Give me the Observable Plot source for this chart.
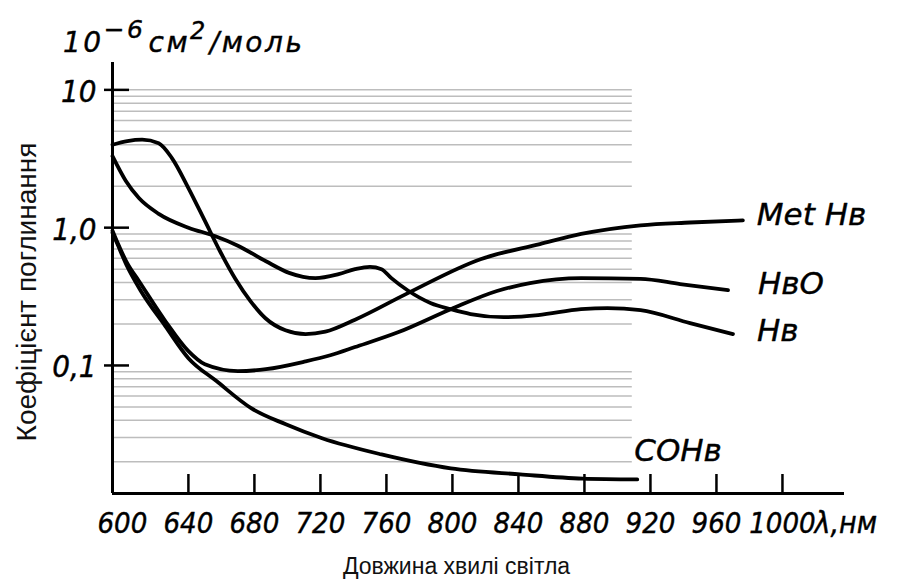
<!DOCTYPE html>
<html><head><meta charset="utf-8">
<script src="https://cdn.jsdelivr.net/npm/d3@7"></script>
<script src="https://cdn.jsdelivr.net/npm/@observablehq/plot@0.6"></script>
<style>body{margin:0;background:#fff} svg{display:block}</style>
</head><body><div id="chart"></div>
<script>
// ---- data ----
const xTicks = [600, 640, 680, 720, 760, 800, 840, 880, 920, 960, 1000];
const xTickMarks = [640, 680, 720, 760, 800, 840, 880, 920, 960, 1000];
const xUnit = "λ,нм";
const yTicks = [10, 1, 0.1];
const yTickLabels = ["10", "1,0", "0,1"];
const gridValues = [0.02,0.03,0.04,0.05,0.06,0.07,0.08,0.09,
                    0.2,0.3,0.4,0.5,0.6,0.7,0.8,0.9,
                    2,3,4,5,6,7,8,9,10];
const seriesNames = ["Met Нв", "НвО", "Нв", "СОНв"];
const metHb = [[594,4.0],[603,4.25],[612,4.35],[622,4.1],[630,3.2],[640,1.94],[650,1.12],[659,0.68],[668.5,0.424],[677.6,0.293],[686.7,0.22],[698.8,0.18],[711,0.169],[723,0.176],[741,0.215],[773,0.335],[817,0.59],[853,0.76],[878,0.9],[914,1.04],[944,1.09],[976,1.13]];
const hbO = [[594,0.95],[597,0.78],[603,0.55],[610,0.41],[626,0.21],[640,0.127],[650,0.102],[670,0.091],[687,0.094],[711,0.107],[726,0.1186],[741,0.136],[767,0.174],[799,0.256],[827,0.347],[847,0.396],[878,0.43],[914,0.425],[938,0.39],[967,0.352]];
const hb = [[594,3.3],[602,2.19],[610,1.64],[622,1.26],[640,1.0],[656,0.87],[670,0.74],[687,0.57],[701,0.47],[717,0.43],[731,0.46],[741,0.5],[750,0.52],[757,0.5],[763,0.43],[773,0.35],[787,0.283],[799,0.256],[811,0.236],[831,0.224],[852,0.232],[878,0.256],[894,0.261],[914,0.252],[944,0.203],[970,0.169]];
const coHb = [[594,0.92],[597,0.76],[603,0.52],[611,0.35],[626,0.193],[640,0.113],[657,0.077],[678,0.049],[699,0.0374],[721,0.0296],[757,0.0226],[799,0.0179],[841,0.0162],[879,0.0151],[912,0.0149]];
const xDomain = [594, 1037.6];
const yDomain = [0.01177, 15.8];
const gridEnd = 909;
const unitParts = ["10", "−6", "см", "2", "/моль"];

// ---- layout ----
const W = 904, H = 586, mL = 112, mR = 60, mT = 62, mB = 93;
const pxPerNm = (W - mL - mR) / (xDomain[1] - xDomain[0]);
const pxPerDecade = (H - mT - mB) / Math.log10(yDomain[1] / yDomain[0]);
const handNarrow = "'DejaVu Sans Condensed', 'DejaVu Sans', sans-serif";
const handWide = "'DejaVu Sans', sans-serif";

const allSeries = [metHb, hbO, hb, coHb];
const table = allSeries.flatMap((s, i) => s.map(([x, y]) => ({x, y, series: seriesNames[i]})));
const ends = allSeries.map((s, i) => ({x: s[s.length-1][0], y: s[s.length-1][1], name: seriesNames[i]}));
const labelOffsets = [[14,-5],[30,-6],[24,-3],[-3,-28]];

const tickText = {fontFamily: handNarrow, fontStyle: "italic", fill: "black", stroke: "black", strokeWidth: 0.4};
const labelText = {fontFamily: handWide, fontStyle: "italic", fill: "black", stroke: "black", strokeWidth: 0.4};

const plot = Plot.plot({
  width: W, height: H,
  marginLeft: mL, marginRight: mR, marginTop: mT, marginBottom: mB,
  x: {type: "linear", domain: xDomain, axis: null},
  y: {type: "log", domain: yDomain, axis: null},
  style: {background: "white"},
  marks: [
    Plot.ruleY(gridValues, {x1: xDomain[0], x2: gridEnd, stroke: "#bdbdbd", strokeWidth: 1.5}),
    Plot.line(table, {x: "x", y: "y", z: "series", curve: "monotone-x", stroke: "black", strokeWidth: 3.8, strokeLinecap: "round"}),
    Plot.ruleX([xDomain[0]], {y1: yDomain[0], y2: yDomain[1], stroke: "black", strokeWidth: 3}),
    Plot.ruleY([yDomain[0]], {x1: xDomain[0], x2: xDomain[1], stroke: "black", strokeWidth: 3}),
    Plot.ruleX(xTickMarks, {y1: yDomain[0], y2: yDomain[0] * Math.pow(10, 19 / pxPerDecade), stroke: "black", strokeWidth: 2.5}),
    Plot.ruleY(yTicks, {x1: xDomain[0] - 8 / pxPerNm, x2: xDomain[0] + 17 / pxPerNm, stroke: "black", strokeWidth: 2.5}),
    Plot.text(xTicks, {x: d => d, y: yDomain[0], dy: 30, text: d => String(d), fontSize: 29, ...tickText}),
    Plot.text([xUnit], {x: xTicks[xTicks.length-1], y: yDomain[0], dx: 32, dy: 30, text: d => d, textAnchor: "start", fontSize: 30, letterSpacing: 1.5, ...tickText}),
    Plot.text(yTicks, {x: xDomain[0], y: d => d, dx: -16, dy: 2, text: (d, i) => yTickLabels[i], textAnchor: "end", fontSize: 31, ...tickText}),
    ...ends.map((e, i) => Plot.text([e], {x: "x", y: "y", text: "name", dx: labelOffsets[i][0], dy: labelOffsets[i][1], textAnchor: "start", fontSize: 31, ...labelText})),
    Plot.text(["Коефіцієнт поглинання"], {frameAnchor: "left", dx: -85, dy: 14, rotate: -90, textAnchor: "middle", text: d => d, fontSize: 28, letterSpacing: 1.4, fontFamily: "'Liberation Sans', Arial, sans-serif", fill: "#111"}),
    Plot.text(["Довжина хвилі світла"], {frameAnchor: "bottom", dx: -22, dy: 80, textAnchor: "middle", text: d => d, fontSize: 23, fontFamily: "'Liberation Sans', Arial, sans-serif", fill: "#111"})
  ]
});
document.getElementById("chart").appendChild(plot);

// unit label with superscripts
const t = d3.select(plot).append("text")
  .attr("x", 63).attr("y", 52).attr("text-anchor", "start")
  .attr("font-family", handWide).attr("font-style", "italic").attr("font-size", 28)
  .attr("letter-spacing", 2.5).attr("fill", "black").attr("stroke", "black").attr("stroke-width", 0.4);
t.append("tspan").text(unitParts[0]);
t.append("tspan").attr("dy", -14).attr("font-size", 25).text(unitParts[1]);
t.append("tspan").attr("dy", 14).attr("dx", 3).text(unitParts[2]);
t.append("tspan").attr("dy", -13).attr("font-size", 24).text(unitParts[3]);
t.append("tspan").attr("dy", 13).attr("dx", 2).text(unitParts[4]);
</script>
</body></html>
